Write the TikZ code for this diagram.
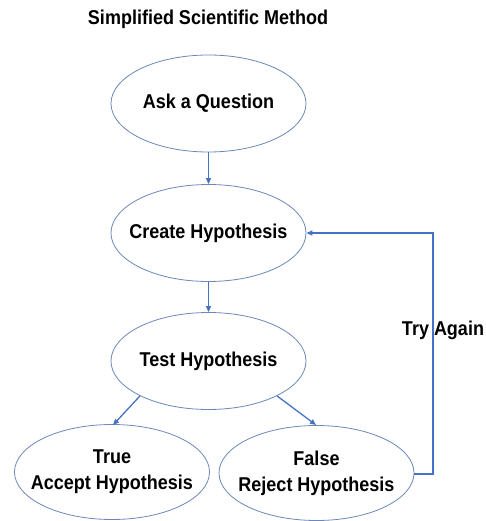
\documentclass[tikz,border=0pt]{standalone}
\usepackage{fontspec}
\setmainfont{Liberation Sans}[FakeStretch=0.9]
\usetikzlibrary{shapes.geometric,arrows.meta}
\definecolor{lineblue}{HTML}{4472C4}
\definecolor{edgeblue}{HTML}{6A88B8}
\tikzset{
  oval/.style={ellipse, draw=edgeblue, line width=0.8pt, minimum width=195pt, minimum height=97pt, inner sep=-40pt, align=center, font=\fontsize{20}{26}\selectfont\bfseries},
  flow/.style={draw=lineblue, line width=1.3pt, -{Triangle[length=6pt,width=5pt]}},
  lbl/.style={inner sep=0pt, font=\fontsize{20}{24}\selectfont\bfseries}
}
\begin{document}
\begin{tikzpicture}[x=1pt,y=-1pt]
\useasboundingbox (0,0) rectangle (485,521);
\node[lbl] (title) at (208,19) {Simplified Scientific Method};
\node[oval] (ask) at (208.5,103.5) {Ask a Question};
\node[oval] (create) at (208.5,233) {Create Hypothesis};
\node[oval] (test) at (208.5,361) {Test Hypothesis};
\node[oval, minimum height=95pt] (accept) at (112,472) {True\\Accept Hypothesis};
\node[oval, minimum height=95pt] (reject) at (316.5,473) {False\\Reject Hypothesis};
\coordinate (c1) at (433,474);
\coordinate (c2) at (433,233);
\coordinate (t1) at (113,425);
\coordinate (t2) at (316,425);
\draw[flow] (ask) -- (create);
\draw[flow] (create) -- (test);
\draw[flow] (test.207) -- (t1);
\draw[flow] (test.333) -- (t2);
\draw[flow] (reject.east |- c1) -- (c1) -- (c2) -- (create.east);
\node[lbl] (again) at (443,330) {Try Again};
\end{tikzpicture}
\end{document}
